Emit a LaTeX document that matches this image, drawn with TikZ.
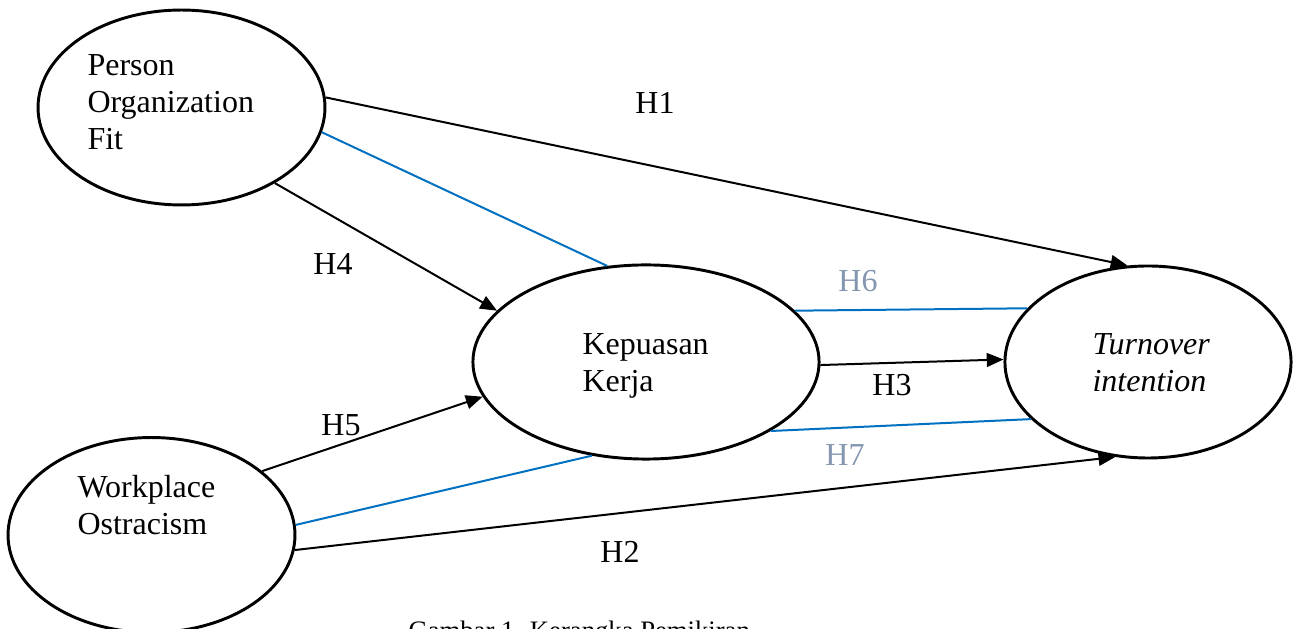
\documentclass[tikz,border=0pt]{standalone}
\usepackage{fontspec}
\setmainfont{Liberation Serif}
\usetikzlibrary{arrows.meta,shapes.geometric}
\definecolor{linkblue}{HTML}{0070C0}
\definecolor{labelgray}{HTML}{8496B0}
\tikzset{
  construct/.style={draw, ellipse, line width=1.1pt, inner sep=0pt},
  label text/.style={inner sep=0pt, font=\fontsize{12}{13.8}\selectfont},
  % multi-line names are anchored at the baseline of their last line
  block text/.style={inner sep=0pt, align=left, anchor=base west, font=\fontsize{12}{13.9}\selectfont},
  path arrow/.style={line width=0.75pt, -{Triangle[length=6.3pt,width=5.2pt]}},
  mediation/.style={line width=0.75pt, draw=linkblue},
}
\begin{document}
\begin{tikzpicture}[x=0.375pt, y=-0.375pt]
  \path[use as bounding box, clip] (0,0) rectangle (1300,629);

  % constructs
  \node[construct, minimum width=107.6pt, minimum height=73.1pt] (pof) at (181.5,107.5) {};
  \node[construct, minimum width=107.6pt, minimum height=73.1pt] (wo)  at (151.5,535) {};
  \node[construct, minimum width=129.8pt, minimum height=72.8pt] (kk)  at (646,362) {};
  \node[construct, minimum width=107.3pt, minimum height=72pt]   (ti)  at (1148,362) {};

  % construct names
  \node[block text] (tpof) at (87,150) {Person\\Organization\\Fit};
  \node[block text] (two)  at (77,535) {Workplace\\Ostracism};
  \node[block text] (tkk)  at (582,392) {Kepuasan\\Kerja};
  \node[block text] (tti)  at (1092,392) {\itshape Turnover\\\itshape intention};

  % direct effects
  \draw[path arrow] (pof.4) -- (ti.102.6);
  \draw[path arrow] (pof.-39.3) -- (kk.161.8);
  \draw[path arrow] (wo.30.1) -- (kk.192.5);
  \draw[path arrow] (kk.-1) -- (ti.179.2);
  \draw[path arrow] (wo.-6) -- (ti.251);

  % mediated paths
  \draw[mediation] (pof.-10.4) -- (kk.112.3);
  \draw[mediation] (kk.19.5) -- (ti.156.7);
  \draw[mediation] (wo.4.3) -- (kk.240.3);
  \draw[mediation] (kk.-29.2) -- (ti.206.2);

  % hypothesis labels
  \node[label text] (h1) at (655,103) {H1};
  \node[label text] (h2) at (620,552) {H2};
  \node[label text] (h3) at (892,385) {H3};
  \node[label text] (h4) at (333,264) {H4};
  \node[label text] (h5) at (341,425) {H5};
  \node[label text, text=labelgray] (h6) at (858,281) {H6};
  \node[label text, text=labelgray] (h7) at (845,455) {H7};

  % caption, running past the lower edge
  \node[inner sep=0pt, anchor=base west, font=\fontsize{10}{12}\selectfont] (cap) at (408,640) {Gambar 1. Kerangka Pemikiran};
\end{tikzpicture}
\end{document}
